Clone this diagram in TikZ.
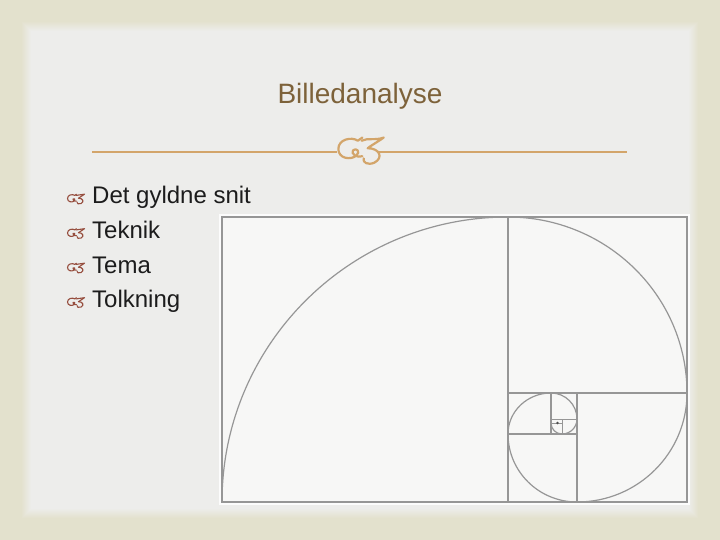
\documentclass[tikz,border=0pt]{standalone}
\usepackage{fontspec}
\setmainfont{Liberation Sans}
\definecolor{slideframe}{RGB}{227,225,205}
\definecolor{slidebg}{RGB}{237,237,235}
\definecolor{gold}{RGB}{211,165,106}
\definecolor{titlebrown}{RGB}{125,98,58}
\definecolor{bulletred}{RGB}{150,78,62}
\definecolor{textgray}{RGB}{28,28,28}
\definecolor{linegray}{RGB}{150,150,150}
\tikzset{
  item/.style={anchor=base west,inner sep=0pt,text=textgray,font=\fontsize{24}{28}\selectfont},
  frameline/.style={draw=linegray,line width=1.4pt},
  swash/.pic={
    \draw[line cap=round,line join=round]
      (0.95,0.02) .. controls (0.88,0.06) and (0.84,0.1) .. (0.78,0.14)
      .. controls (0.55,-0.02) and (0.05,0.08) .. (0.05,0.45)
      .. controls (0.05,0.8) and (0.5,0.88) .. (0.72,0.7)
      .. controls (0.9,0.55) and (0.72,0.38) .. (0.6,0.5)
      .. controls (0.5,0.62) and (0.75,0.8) .. (0.95,0.72);
    \draw[line cap=round,line join=round]
      (0.92,0.14) .. controls (1.15,0.02) and (1.45,0.14) .. (1.75,0.02)
      .. controls (1.5,0.2) and (1.3,0.3) .. (1.15,0.42)
      .. controls (1.6,0.42) and (1.75,0.78) .. (1.4,0.96)
      .. controls (1.15,1.07) and (0.95,0.95) .. (1.0,0.8);
  }
}
\begin{document}
\begin{tikzpicture}[x=1pt,y=-1pt]
  \useasboundingbox (0,0) rectangle (720,540);
  \fill[slideframe] (0,0) rectangle (720,540);
  \foreach \k [evaluate=\k as \p using int(100-10*\k)] in {1,...,10}
    \fill[slideframe!\p!slidebg] (21+\k,21+\k) rectangle (699-\k,519-\k);

  \node[anchor=base,inner sep=0pt,text=titlebrown,font=\fontsize{28}{34}\selectfont] (title) at (360,104) {Billedanalyse};
  \draw[gold,line width=2pt] (92,152) -- (337,152);
  \draw[gold,line width=2pt] (378,152) -- (627,152);
  \pic[scale=26.7,gold,line width=2.2pt] at (337,137) {swash};

  \foreach \t [count=\i] in {Det gyldne snit,Teknik,Tema,Tolkning} {
    \node[item] (b\i) at (92,169.5+34.5*\i) {\t};
    \pic[scale=10,bulletred,line width=1.1pt] at (67,159.5+34.5*\i) {swash};
  }

  \fill[white!85!slidebg] (219,214) rectangle (690,505);
  \fill[white!55!slidebg] (222,217) rectangle (687,502);
  \draw[frameline] (222,217) rectangle (687,502);
  \draw[frameline] (508,217) -- (508,502);
  \draw[frameline] (508,393) -- (687,393);
  \draw[frameline] (577,393) -- (577,502);
  \draw[frameline] (508,434) -- (577,434);
  \draw[frameline] (551,393) -- (551,434);
  \draw[frameline,line width=1pt] (551,419) -- (577,419);
  \draw[frameline,line width=1pt] (562,419) -- (562,434);
  \draw[frameline,line width=0.8pt] (551,423) -- (562,423);
  \draw[linegray,line width=1.2pt] (222,502)
    arc[start angle=180,end angle=270,x radius=286,y radius=285]
    arc[start angle=270,end angle=360,x radius=179,y radius=176]
    arc[start angle=0,end angle=90,x radius=110,y radius=109]
    arc[start angle=90,end angle=180,x radius=69,y radius=68]
    arc[start angle=180,end angle=270,x radius=43,y radius=41]
    arc[start angle=270,end angle=360,radius=26]
    arc[start angle=0,end angle=90,radius=15]
    arc[start angle=90,end angle=180,radius=11];
  \fill[black!70] (557.5,423) circle[radius=1.3];
\end{tikzpicture}
\end{document}
